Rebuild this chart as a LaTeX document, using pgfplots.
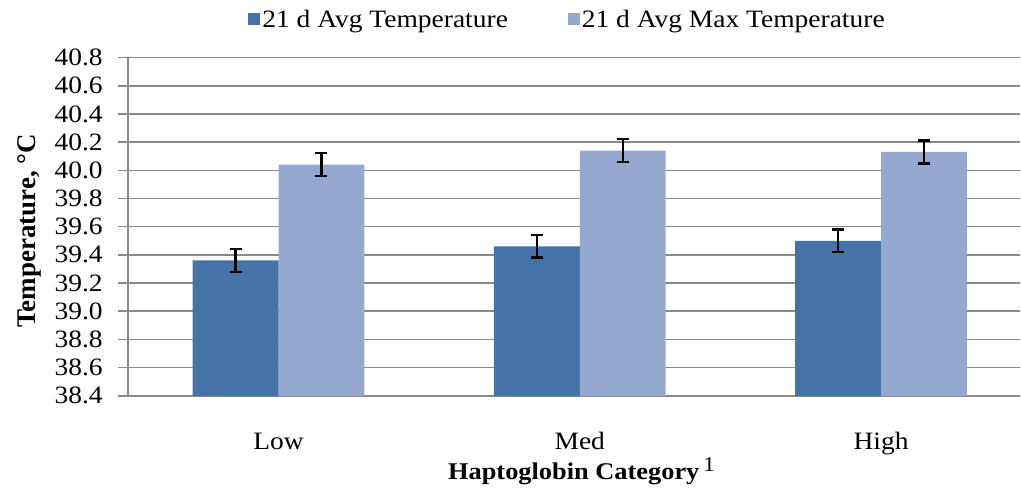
\documentclass[border=0pt]{standalone}
\usepackage{pgfplots}
\pgfplotsset{compat=1.18}
\usepackage{pgfplotstable}
\usepackage{fontspec}
\setmainfont{Liberation Serif}[FakeStretch=1.1]
\newfontfamily\ylfont{Liberation Serif}

\definecolor{avgblue}{RGB}{69,114,167}
\definecolor{maxblue}{RGB}{149,169,208}
\definecolor{gridgray}{RGB}{137,137,137}

% x: 0=Low 1=Med 2=High
\pgfplotstableread{
x avg avgerr max maxerr
0 39.36 0.08 40.04 0.082
1 39.46 0.08 40.14 0.082
2 39.50 0.08 40.13 0.082
}\hpdata

\begin{document}
\begin{tikzpicture}
\begin{axis}[
    scale only axis,
    width=893bp, height=338.5bp,
    xmin=-0.5, xmax=2.462,
    ymin=38.4, ymax=40.8,
    ytick={38.4,38.6,...,40.81},
    xtick=data,
    xticklabels={Low,Med,High},
    axis lines=left,
    axis line style={-, draw=gridgray, line width=1.6bp},
    ymajorgrids,
    major grid style={draw=gridgray, line width=1.6bp},
    tick align=outside,
    major tick length=10bp,
    ytick style={draw=gridgray, line width=1.6bp},
    xtick style={draw=none},
    yticklabel style={
        /pgf/number format/fixed, /pgf/number format/fixed zerofill,
        /pgf/number format/precision=1,
        /pgf/number format/assume math mode=true,
        font=\fontsize{25bp}{29bp}\selectfont, anchor=east, inner sep=0pt, xshift=-15bp},
    xticklabel style={font=\fontsize{25bp}{29bp}\selectfont, anchor=base, inner sep=0pt, yshift=-44bp},
    xlabel={\textbf{Haptoglobin Category}\,\raisebox{0.35em}{\fontsize{21bp}{24bp}\selectfont 1}},
    xlabel style={at={(axis description cs:0.5084,0)}, anchor=base, yshift=-84bp,
        font=\fontsize{24bp}{28bp}\selectfont, inner sep=0pt},
    ylabel={\ylfont\bfseries Temperature, °C},
    ylabel style={at={(axis description cs:-0.1041,0.4874)}, anchor=base, rotate=0,
        font=\fontsize{27bp}{31bp}\selectfont, inner sep=0pt},
    ybar=0pt,
    bar width=0.285,
    legend columns=2,
    legend style={draw=none, at={(axis description cs:0.4927,1.1137)}, anchor=center,
        font=\fontsize{25bp}{29bp}\selectfont,
        nodes={inner xsep=2bp},
        /tikz/every even column/.append style={column sep=58bp}},
    legend image code/.code={\fill[#1] (0bp,-6bp) rectangle (12bp,6bp);},
    error bars/y dir=both,
    error bars/y explicit,
    error bars/error bar style={black, line width=2.4bp},
    error bars/error mark options={black, rotate=90, mark size=6bp, line width=2.4bp},
]
\addplot[fill=avgblue, draw=none] table[x=x, y=avg, y error=avgerr] {\hpdata};
\addplot[fill=maxblue, draw=none] table[x=x, y=max, y error=maxerr] {\hpdata};
\legend{21 d Avg Temperature, 21 d Avg Max Temperature}
\end{axis}
\path[use as bounding box] (-128bp,-92.9bp) rectangle (893bp,396.1bp);
\end{tikzpicture}
\end{document}
